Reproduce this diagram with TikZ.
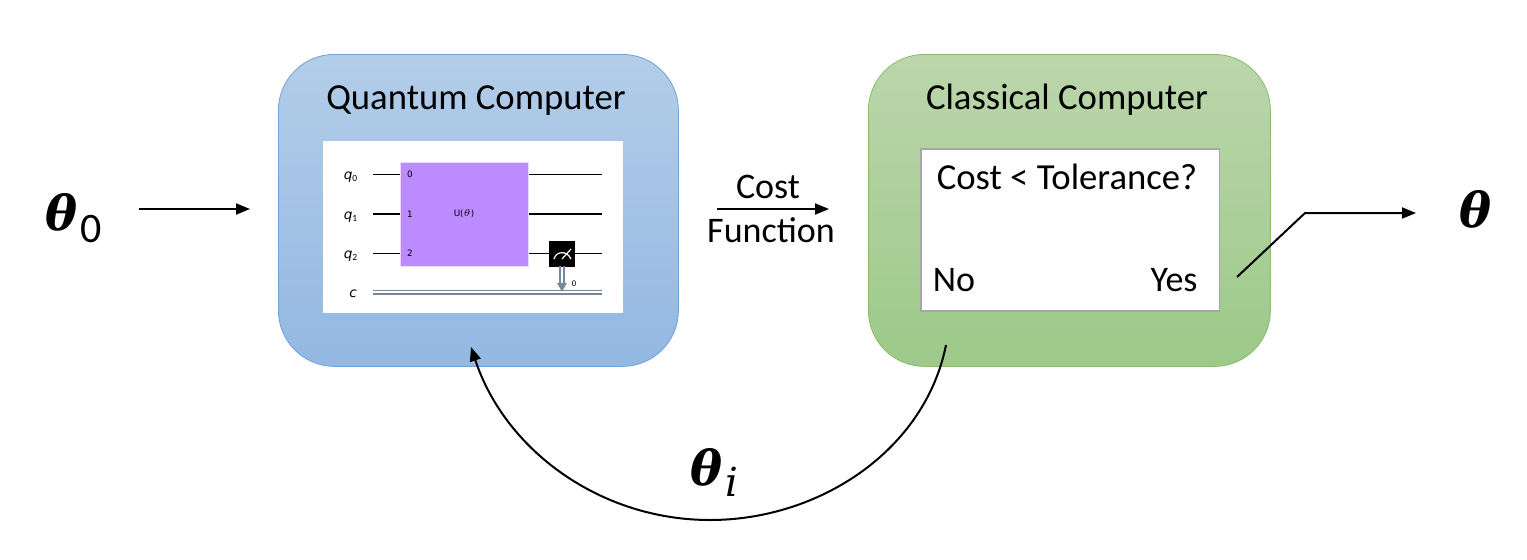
\documentclass[tikz,border=0pt]{standalone}
\usepackage{fontspec}
\setmainfont{Carlito}
\newfontfamily\thetafont[BoldItalicFont={DejaVu Serif Bold Italic}]{DejaVu Serif}
\newfontfamily\subfont{DejaVu Serif}
\newfontfamily\zerofont{Carlito}
\newfontfamily\circfont{DejaVu Sans}
\usetikzlibrary{arrows.meta,calc}
\definecolor{qtop}{HTML}{B3CDE9}
\definecolor{qbot}{HTML}{93B8E2}
\definecolor{qline}{HTML}{6FA3D8}
\definecolor{ctop}{HTML}{BBD6AC}
\definecolor{cbot}{HTML}{9DC989}
\definecolor{cline}{HTML}{86BB6C}
\definecolor{gate}{HTML}{BB8BFF}
\definecolor{cwire}{HTML}{778899}
\tikzset{
  x=0.5pt,y=-0.5pt,
  panel/.style={draw=#1,line width=0.4pt,rounded corners=28pt,minimum width=200pt,minimum height=156pt,inner sep=0pt},
  label/.style={inner sep=0pt,font=\fontsize{18pt}{20pt}\selectfont,anchor=base},
  title/.style={inner sep=0pt,font=\fontsize{18.35pt}{20pt}\selectfont,anchor=base},
  big/.style={inner sep=0pt,anchor=base west,font=\fontsize{24pt}{26pt}\selectfont},
  flow/.style={draw=black,line width=1pt,-{Triangle[length=7pt,width=5.5pt]}},
  wire/.style={draw=black,line width=0.7pt},
  cw/.style={draw=cwire,line width=0.75pt},
  qlab/.style={inner sep=0pt,font=\circfont\itshape\fontsize{6.8pt}{7pt}\selectfont,anchor=base},
  gatelab/.style={inner sep=0pt,font=\circfont\fontsize{4.4pt}{5pt}\selectfont},
}
\begin{document}
\begin{tikzpicture}
\useasboundingbox (0,0) rectangle (1527,559);
% panels
\node[panel=qline,top color=qtop,bottom color=qbot,anchor=north west] (qc) at (278,54) {};
\node[panel=cline,top color=ctop,bottom color=cbot,anchor=north west,minimum width=201pt] (cc) at (868,54) {};
\node[title] (qctitle) at (476,109) {Quantum Computer};
\node[title] (cctitle) at (1067,109) {Classical Computer};
% circuit
\node[fill=white,inner sep=0pt,minimum width=150pt,minimum height=86pt,anchor=north west] (circ) at (323,141) {};
\coordinate (w0a) at (373,174.7); \coordinate (w0b) at (602,174.7);
\coordinate (w1a) at (373,214); \coordinate (w1b) at (602,214);
\coordinate (w2a) at (373,253.5); \coordinate (w2b) at (602,253.5);
\coordinate (ca) at (373,292.2); \coordinate (cb) at (602,292.2);
\draw[wire] (w0a) -- (w0b);
\draw[wire] (w1a) -- (w1b);
\draw[wire] (w2a) -- (w2b);
\draw[cw] ($(ca)+(0,-1.7)$) -- ($(cb)+(0,-1.7)$);
\draw[cw] ($(ca)+(0,1.7)$) -- ($(cb)+(0,1.7)$);
\node[fill=gate,draw=white!70!gate,line width=0.3pt,inner sep=0pt,minimum width=64.4pt,minimum height=52.2pt,anchor=north west] (gatebox) at (399.5,162) {};
\node[gatelab] (g0) at (410,174.7) {0};
\node[gatelab] (g1) at (410,214) {1};
\node[gatelab] (g2) at (410,253.5) {2};
\node[gatelab] (gu) at (464,214) {U($\theta$)};
\node[qlab] (q0) at (351,179) {q\textsubscript{\normalfont 0}};
\node[qlab] (q1) at (351,219) {q\textsubscript{\normalfont 1}};
\node[qlab] (q2) at (351,258) {q\textsubscript{\normalfont 2}};
\node[qlab] (qc1) at (353,297) {c};
\node[fill=black,inner sep=0pt,minimum width=13pt,minimum height=13pt,anchor=north west] (meas) at (549,241) {};
\draw[white,line width=0.6pt] (554,259) .. controls (556,251) and (567,250) .. (571,259);
\draw[white,line width=0.6pt] (562,259) -- (571,249);
\draw[cw,line width=0.8pt] (560,266) -- (560,285);
\draw[cw,line width=0.8pt] (564,266) -- (564,285);
\fill[cwire] (557,283) -- (567,283) -- (562,291.5) -- cycle;
\node[gatelab,font=\circfont\fontsize{3.8pt}{4pt}\selectfont] (zero) at (574,284) {0};
% decision
\node[fill=white,draw=black!35,line width=0.9pt,inner sep=0pt,minimum width=149.3pt,minimum height=81pt,anchor=north west] (dec) at (920,148) {};
\node[title] (dq) at (1067,189) {Cost < Tolerance?};
\node[label] (no) at (954,291) {No};
\node[label] (yes) at (1174,291) {Yes};
% cost
\node[label] (cost) at (768,198) {Cost};
\node[label] (func) at (771,242) {Function};
\coordinate (c1) at (717,209); \coordinate (c2) at (829,209);
\draw[flow] (c1) -- (c2);
% input
\coordinate (i1) at (139,209); \coordinate (i2) at (250,209);
\draw[flow] (i1) -- (i2);
\node[big] (th0) at (45,230) {\thetafont\bfseries\itshape θ\kern1.5pt\raisebox{-6pt}{\zerofont\mdseries\upshape\fontsize{21pt}{22pt}\selectfont 0}};
% output
\coordinate (o1) at (1237,277); \coordinate (o2) at (1305,213); \coordinate (o3) at (1416,213);
\draw[flow] (o1) -- (o2) -- (o3);
\node[big] (th) at (1459,227) {\thetafont\bfseries\itshape θ};
% loop
\coordinate (l1) at (946,345); \coordinate (l2) at (710,520); \coordinate (l3) at (471,347);
\draw[flow] (l1) .. controls (925,450) and (820,520) .. (l2) .. controls (600,520) and (505,450) .. (l3);
\node[big] (thi) at (690,485) {\thetafont\bfseries\itshape θ\kern1.5pt\raisebox{-5.5pt}{\subfont\mdseries\itshape\fontsize{20pt}{22pt}\selectfont i}};
\end{tikzpicture}
\end{document}
